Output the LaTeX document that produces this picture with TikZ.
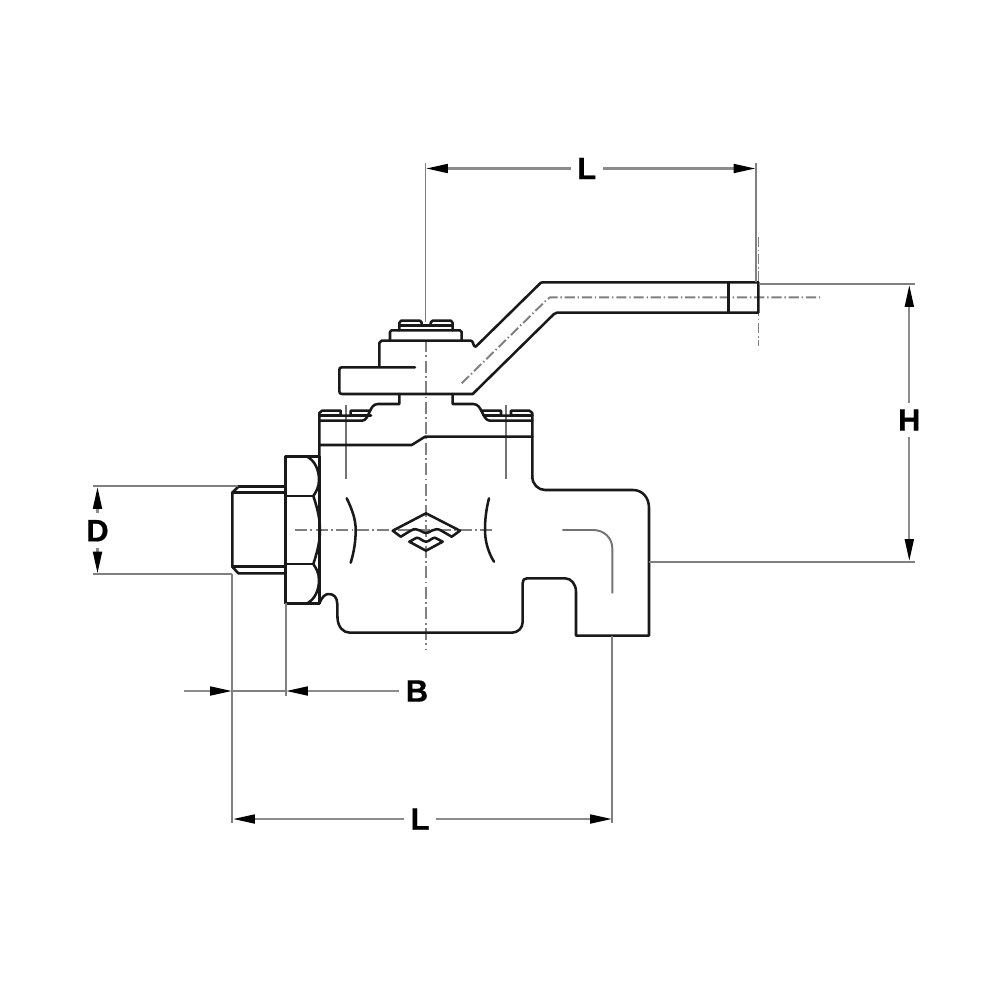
\documentclass[tikz,border=0pt]{standalone}
\usepackage{fontspec}
\setmainfont[BoldFeatures={FakeBold=0.6}]{Liberation Sans}
\usetikzlibrary{arrows.meta}
\tikzset{
  part/.style={draw=black!90,line width=0.72pt,line join=round,line cap=round},
  thin part/.style={draw=black!55,line width=0.55pt},
  axis/.style={draw=black!50,line width=0.6pt,dash pattern=on 3.4pt off 1pt on 0.45pt off 1pt},
  axis short/.style={draw=black!50,line width=0.55pt,dash pattern=on 2.9pt off 0.8pt on 0.4pt off 0.8pt},
  witness/.style={draw=black!50,line width=0.55pt},
  dimline/.style={draw=black!45,line width=0.65pt,-{Triangle[black,length=6.2pt,width=2.5pt]}},
  dimlabel/.style={inner sep=1.7pt,font=\bfseries\fontsize{8.8pt}{8.8pt}\selectfont,text=black}
}
\begin{document}
\begin{tikzpicture}[x=0.01cm,y=-0.01cm]
\useasboundingbox[fill=white] (0,0) rectangle (1000,1000);

% --- centre lines and thin part lines
\draw[witness] (425.5,163) -- (425.5,322);
\draw[axis] (426,340) -- (426,650);
\draw[axis] (295,530) -- (495,530);
\draw[axis short] (461.7,383.3) -- (546,300.5) -- (550,297.3) -- (823,297.3);
\draw[axis short] (758.5,237) -- (758.5,346);
\draw[thin part] (345.7,405) -- (345.7,479);
\draw[thin part] (506,405) -- (506,479);
\draw[thin part] (562.3,530) -- (593.3,530) .. controls (604,530) and (612.3,538) .. (612.3,548.3) -- (612.3,593.3);

% --- handle
\draw[part] (379.3,367.3) -- (379.3,343) -- (381.5,340.7) -- (471,340.7)
  .. controls (473.5,340.7) and (473,347) .. (475.7,346.7) -- (539,284.5)
  .. controls (540,283) and (541,282.3) .. (543,282.3) -- (758.3,282.3) -- (758.3,312.7) -- (557,312.7)
  .. controls (556,312.7) and (555,313) .. (554,314) -- (472.7,394) -- (342,394)
  .. controls (340,394) and (339.3,393) .. (339.3,391) -- (339.3,370)
  .. controls (339.3,368) and (340,367.3) .. (342,367.3) -- (415,367.3);
\draw[part] (728.3,282.3) -- (728.3,312.7);
% --- stem nut
\draw[part] (390,340.7) -- (390,332) -- (391.5,330.3) -- (460,330.3) -- (461.7,332) -- (461.7,340.7);
\draw[part] (399.3,330.3) -- (399.3,323) -- (401,320.7) -- (420,320.7) -- (421.7,322.5) -- (421.7,325.5) -- (430.7,325.5) -- (430.7,322.5) -- (432.5,320.7) -- (451,320.7) -- (452.7,323) -- (452.7,330.3);
\draw[part] (399.3,325.5) -- (421.7,325.5) (430.7,325.5) -- (452.7,325.5);

% --- flange and bolts
\draw[part] (399.3,394) -- (399.3,404) -- (378,404) .. controls (373,404) and (371.5,408) .. (369.5,412) .. controls (367.5,416) and (366,420.7) .. (362,420.7) -- (319.3,420.7);
\draw[part] (452.7,394) -- (452.7,404) -- (473.3,404) .. controls (478,404) and (480,408) .. (482,412) .. controls (484,416) and (486,420.7) .. (490,420.7) -- (532.3,420.7);
\draw[part] (369.5,410.7) -- (350.7,410.7) -- (350.7,415.7) -- (340.7,415.7) -- (340.7,410.7) -- (322,410.7) -- (319.3,413) -- (319.3,603.3);
\draw[part] (319.3,415.7) -- (340.7,415.7) (350.7,415.7) -- (371,415.7);
\draw[part] (481,410.7) -- (501,410.7) -- (501,415.7) -- (511,415.7) -- (511,410.7) -- (529.5,410.7) -- (532.3,413) -- (532.3,476.7);
\draw[part] (483.5,415.7) -- (501,415.7) (511,415.7) -- (532.3,415.7);
\draw[part] (319.3,445) -- (411.7,445) -- (425,436.7) -- (532.3,436.7);

% --- body outline
\draw[part] (319.3,603.3) .. controls (322,597) and (325,594) .. (328.5,594)
  .. controls (334,594) and (337,597) .. (337.3,604) -- (337.5,618)
  .. controls (338,627) and (343,632.7) .. (350,632.7) -- (511.7,632.7)
  .. controls (518,632.7) and (522.7,628) .. (522.7,621.7) -- (522.7,583)
  .. controls (522.7,580) and (524,578.3) .. (527,578.3) -- (565,578.3)
  .. controls (571,578.3) and (576,584) .. (576,591.7) -- (576,635.7) -- (649,635.7) -- (649,508)
  .. controls (649,497) and (642,490) .. (633,490) -- (545,490)
  .. controls (538,490) and (532.3,484) .. (532.3,476.7);

% --- hex nut and threaded stub
\draw[part] (285.7,456.7) rectangle (319.3,603.3);
\draw[part] (285.7,496) -- (313.3,496) (285.7,564) -- (313.3,564);
\draw[part] (307.3,456.7) .. controls (315,461) and (319,470) .. (319,480) .. controls (319,487) and (316,492) .. (313.3,496)
  .. controls (318,510) and (320,520) .. (320,530) .. controls (320,540) and (318,550) .. (313.3,564)
  .. controls (316,568) and (319,573) .. (319,580) .. controls (319,590) and (315,599) .. (307.3,603.3);
\draw[part] (238.3,486.7) -- (285.7,486.7) (232.3,492.7) -- (285.7,492.7);
\draw[part] (238.3,486.7) -- (232.3,492.7) -- (232.3,566.7) -- (238.3,573.3) -- (285.7,573.3);
\draw[part] (232.3,566.7) -- (285.7,566.7);

% --- bore arcs
\draw[part] (346.7,498.3) .. controls (352.5,510) and (355.7,520) .. (355.7,530) .. controls (355.7,541) and (354,552) .. (350.7,562.7);
\draw[part] (489,498.3) .. controls (486,510) and (485,520) .. (485,530) .. controls (485,541) and (488,552) .. (494,561.7);

% --- logo
\draw[part] (426,513.3) -- (392.7,530.7) -- (400.7,536.7) -- (411,530.5) .. controls (414,528.5) and (417,529) .. (420,530.5) .. controls (423,532) and (424,533) .. (426,533) .. controls (428,533) and (429,532) .. (432,530.5) .. controls (435,529) and (438,528.5) .. (441,530.5) -- (451.7,536.7) -- (460,530.7) -- cycle;
\draw[part] (426,550.7) -- (409.3,541.7) -- (416.7,537.7) .. controls (420,537.7) and (423,541.7) .. (426,541.7) .. controls (429,541.7) and (432,537.7) .. (435,537.7) -- (442.7,541.7) -- cycle;

% --- dimension labels
\node[dimlabel] (Ltop) at (586.7,168.5) {L};
\node[dimlabel] (Hdim) at (909.3,420) {H};
\node[dimlabel] (Ddim) at (97.5,530.7) {D};
\node[dimlabel] (Bdim) at (417,691) {B};
\node[dimlabel] (Lbot) at (420,819) {L};

% --- dimension ends
\coordinate (tl) at (426,168.5);
\coordinate (tr) at (755.5,168.5);
\coordinate (hu) at (909.3,285);
\coordinate (hd) at (909.3,561);
\coordinate (du) at (97.5,487);
\coordinate (dd) at (97.5,573.5);
\coordinate (bl0) at (184,691);
\coordinate (bl) at (232,691);
\coordinate (br) at (286,691);
\coordinate (ll) at (233,819);
\coordinate (lr) at (612,819);

% --- witness lines
\draw[witness] (755.7,163) -- (755.7,282.3);
\draw[witness] (759,284) -- (915,284);
\draw[witness] (649,562.3) -- (915,562.3);
\draw[witness] (93,486.3) -- (238,486.3);
\draw[witness] (93,574) -- (232,574);
\draw[witness] (232.3,574) -- (232.3,823);
\draw[witness] (285.7,603.3) -- (285.7,696);
\draw[witness] (612.3,635.7) -- (612.3,823);

% --- dimension lines
\draw[dimline] (Ltop) -- (tl);
\draw[dimline] (Ltop) -- (tr);
\draw[dimline] (Hdim) -- (hu);
\draw[dimline] (Hdim) -- (hd);
\draw[dimline] (Ddim) -- (du);
\draw[dimline] (Ddim) -- (dd);
\draw[dimline] (bl0) -- (bl);
\draw[witness] (bl) -- (br);
\draw[dimline] (Bdim) -- (br);
\draw[dimline] (Lbot) -- (ll);
\draw[dimline] (Lbot) -- (lr);
\end{tikzpicture}
\end{document}
